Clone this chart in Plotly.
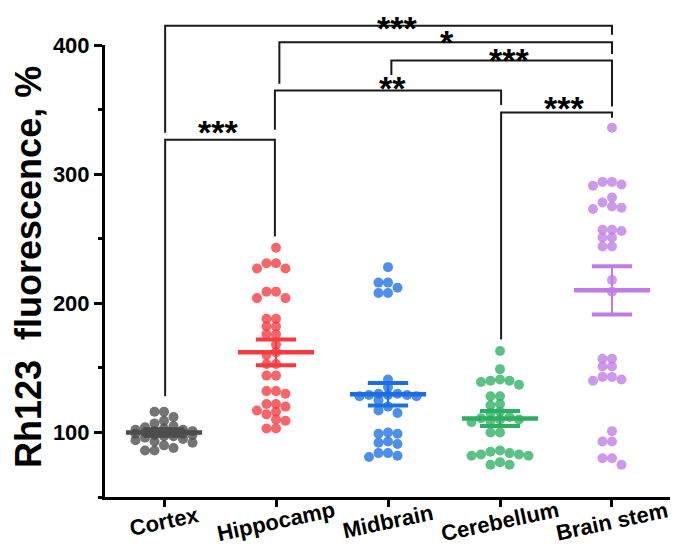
import plotly.graph_objects as go

# ---------------- data ----------------
categories = ["Cortex", "Hippocamp", "Midbrain", "Cerebellum", "Brain stem"]

cortex = [116, 116, 112, 109, 107, 105, 104, 103, 102, 102, 101, 101, 100, 100, 100,
          99, 99, 98, 98, 97, 97, 96, 95, 94, 93, 92, 90, 88, 86, 86]
hippocamp = [243, 231, 231, 227, 227, 209, 209, 204, 204, 188, 188, 182, 182, 176, 176,
             168, 162, 160, 153, 153, 144, 144, 132, 132, 130, 122, 122, 120, 117, 116,
             114, 110, 109, 103, 103]
midbrain = [228, 216, 216, 212, 208, 208, 141, 135, 130, 130, 129, 129, 129, 128, 128,
            125, 120, 117, 115, 100, 99, 99, 93, 92, 91, 84, 84, 82, 81]
cerebellum = [163, 149, 141, 140, 140, 139, 137, 128, 128, 122, 121, 116, 115, 112, 111,
              110, 110, 109, 108, 100, 100, 86, 85, 84, 83, 83, 82, 82, 77, 75, 75]
brainstem = [336, 294, 294, 292, 291, 282, 278, 275, 274, 273, 257, 257, 256, 251, 251,
             244, 244, 218, 209, 157, 157, 151, 151, 143, 143, 141, 140, 101, 93, 93,
             80, 80, 75]

means = [100, 162, 129.5, 110.8, 210]
sems = [2.5, 10, 8.7, 5.8, 18.7]

y_ticks = [100, 200, 300, 400]

# significance brackets: (left x, right x, bracket top, left leg end, right leg end, label, label x, label y)
brackets = [
    (0.01, 4.0, 415.0, 332.0, 408.0, "***", 2.08, 413.2),
    (1.03, 4.0, 402.1, 369.9, 393.0, "*", 2.53, 402.5),
    (2.03, 4.0, 388.0, 376.8, 352.3, "***", 3.08, 388.3),
    (0.99, 3.01, 364.7, 334.3, 353.6, "**", 2.04, 366.6),
    (0.01, 0.99, 326.6, 128.1, 251.8, "***", 0.48, 332.4),
    (3.01, 4.0, 347.7, 171.9, 343.6, "***", 3.57, 350.9),
]

groups = [cortex, hippocamp, midbrain, cerebellum, brainstem]
colors = ["#4d4d4d", "#f53a40", "#1c6fe3", "#2daf63", "#bf7ce6"]

# ---------------- layout geometry ----------------
W, H = 678, 556
PAGE_OFF = 8                       # default body margin of the html page
PL, PR, PT, PB = 105, 670, 45, 497  # plot area in screen pixels
ML, MT = PL - PAGE_OFF, PT - PAGE_OFF
MR, MB = W - (PR - PAGE_OFF), H - (PB - PAGE_OFF)
Y0, Y1 = 50, 400
X0, X1 = -0.527, 4.518
PW, PH = PR - PL, PB - PT
px_per_x = PW / (X1 - X0)
px_per_y = PH / (Y1 - Y0)


def swarm(vals, d=6.5, step=9.5, max_k=3):
    """Simple beeswarm: nearest free slot, overlapping when the row is full."""
    placed = []
    offs = []
    cands = [0.0] + [s * step * i for i in range(1, max_k + 1) for s in (-1, 1)]
    for v in vals:
        y = v * px_per_y
        best, best_d = None, -1.0
        for c in cands:
            md = min([((c - a) ** 2 + (y - b) ** 2) ** 0.5 for a, b in placed] or [1e9])
            if md >= d:
                best = c
                break
            if md > best_d:
                best, best_d = c, md
        placed.append((best, y))
        offs.append(best / px_per_x)
    return offs


def ypaper(v):
    return (v - Y0) / (Y1 - Y0)


fig = go.Figure()

FONT = "Arial, Liberation Sans, sans-serif"

for i, (vals, col) in enumerate(zip(groups, colors)):
    offs = swarm(vals)
    fig.add_trace(go.Scatter(
        x=[i + o for o in offs], y=vals, mode="markers",
        marker=dict(size=10, color=col, opacity=0.78, line=dict(width=0)),
        showlegend=False, hoverinfo="y"))

for i, (m, s, col) in enumerate(zip(means, sems, colors)):
    fig.add_trace(go.Scatter(x=[i - 0.34, i + 0.34], y=[m, m], mode="lines",
                             line=dict(color=col, width=4.5), showlegend=False, hoverinfo="skip"))
    fig.add_trace(go.Scatter(x=[i - 0.18, i + 0.18, None, i - 0.18, i + 0.18],
                             y=[m + s, m + s, None, m - s, m - s], mode="lines",
                             line=dict(color=col, width=4), showlegend=False, hoverinfo="skip"))
    fig.add_trace(go.Scatter(x=[i, i], y=[m - s, m + s], mode="lines",
                             line=dict(color=col, width=2), showlegend=False, hoverinfo="skip"))

shapes = []
annotations = []
for xl, xr, top, yl, yr, lab, lx, ly in brackets:
    path = (f"M {xl} {ypaper(yl)} L {xl} {ypaper(top)} L {xr} {ypaper(top)} L {xr} {ypaper(yr)}")
    shapes.append(dict(type="path", xref="x", yref="paper", path=path,
                       line=dict(color="#1a1a1a", width=2)))
    annotations.append(dict(x=lx, y=ypaper(ly), xref="x", yref="paper", text=f"<b>{lab}</b>",
                            showarrow=False, xanchor="center", yanchor="middle",
                            font=dict(family=FONT, size=34, color="black")))

for i, c in enumerate(categories):
    annotations.append(dict(x=i, y=(PB - 521) / PH, xref="x", yref="paper",
                            text=f"<b>{c}</b>", showarrow=False, textangle=-12,
                            xanchor="center", yanchor="middle",
                            font=dict(family=FONT, size=22, color="black")))

annotations.append(dict(x=(28 - PL) / PW, y=(PB - 267) / PH,
                        xref="paper", yref="paper", text="<b>Rh123\u00a0 fluorescence, %</b>",
                        showarrow=False, textangle=-90, xanchor="center", yanchor="middle",
                        font=dict(family=FONT, size=36, color="black")))

fig.update_layout(
    width=W, height=H,
    margin=dict(l=ML, r=MR, t=MT, b=MB),
    plot_bgcolor="white", paper_bgcolor="white",
    shapes=shapes, annotations=annotations,
    xaxis=dict(range=[X0, X1], tickvals=list(range(5)), ticktext=[""] * 5,
               showgrid=False, zeroline=False, showline=True, linecolor="black",
               linewidth=3, ticks="outside", ticklen=7, tickwidth=3, tickcolor="black"),
    yaxis=dict(range=[Y0, Y1], tickvals=y_ticks, ticktext=[f"<b>{t}</b>" for t in y_ticks],
               showgrid=False, zeroline=False, showline=True, linecolor="black",
               linewidth=3, ticks="outside", ticklen=8, tickwidth=3, tickcolor="black",
               tickfont=dict(family=FONT, size=22, color="black"),
               minor=dict(ticks="outside", dtick=50, ticklen=4, tickwidth=3,
                          tickcolor="black", showgrid=False)),
)

fig.write_html("out.html")
